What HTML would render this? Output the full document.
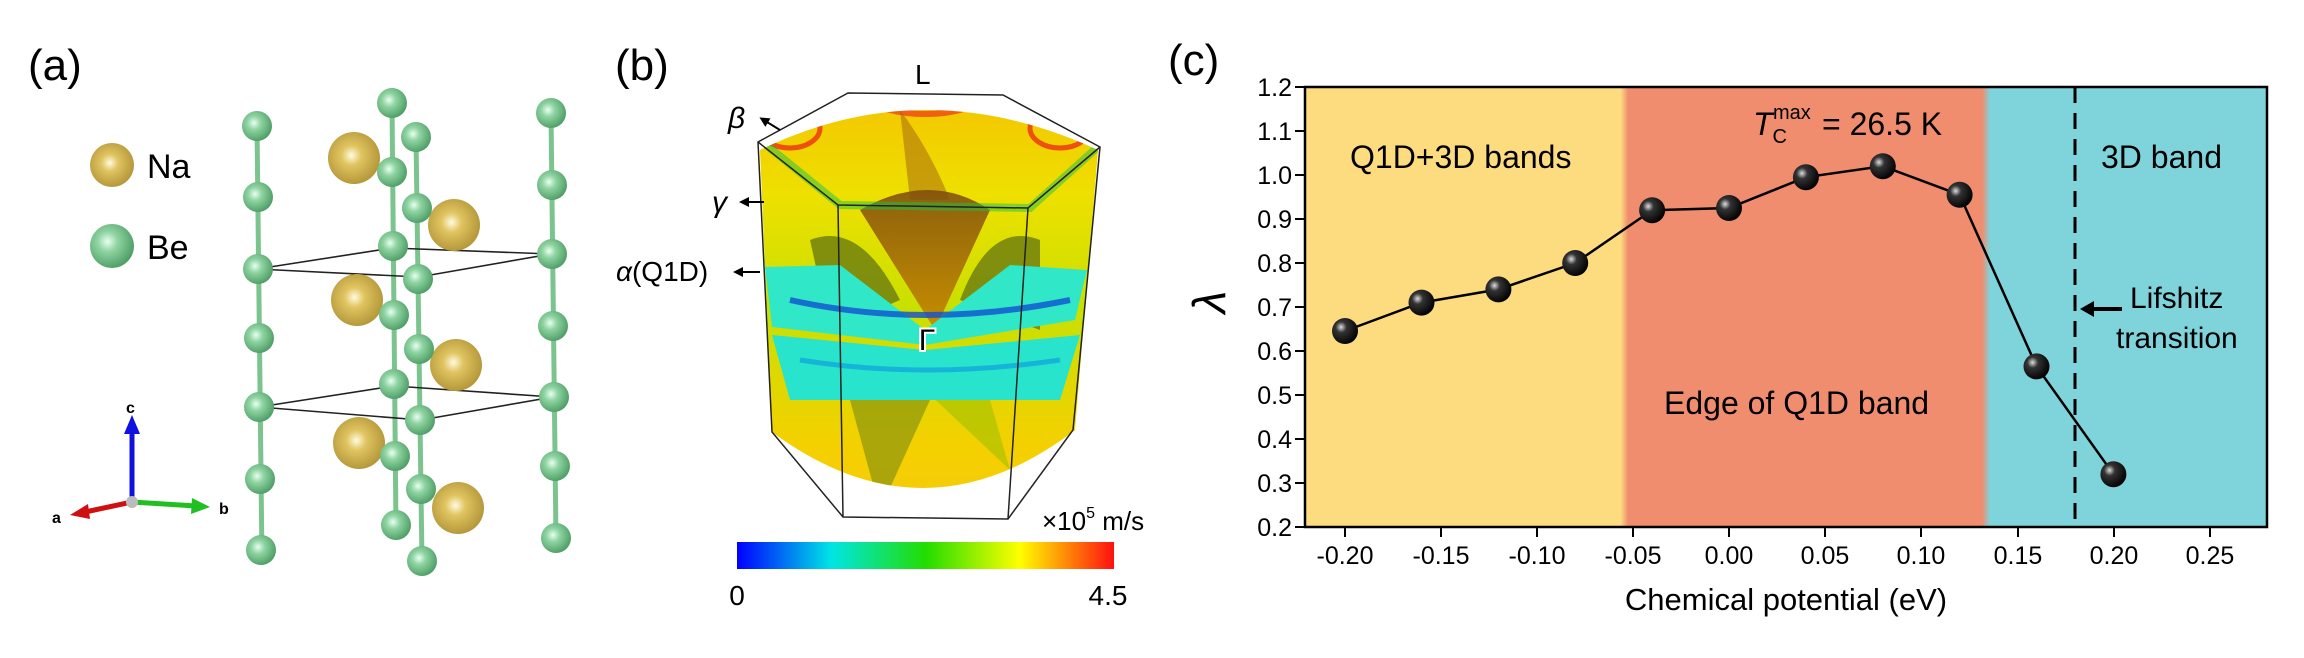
<!DOCTYPE html>
<html><head><meta charset="utf-8"><style>
html,body{margin:0;padding:0;background:#fff;}
svg{display:block;}
text{font-family:"Liberation Sans",sans-serif;}
</style></head><body>
<svg width="2304" height="658" viewBox="0 0 2304 658" xmlns="http://www.w3.org/2000/svg">
<defs>
<radialGradient id="be" cx="0.4" cy="0.4" r="0.65"><stop offset="0" stop-color="#e8fff0"/><stop offset="0.35" stop-color="#8fd4a2"/><stop offset="1" stop-color="#4a9a62"/></radialGradient>
<radialGradient id="na" cx="0.45" cy="0.45" r="0.65"><stop offset="0" stop-color="#fffbe0"/><stop offset="0.3" stop-color="#e0c460"/><stop offset="1" stop-color="#a88c30"/></radialGradient>
<radialGradient id="pt" cx="0.35" cy="0.35" r="0.7"><stop offset="0" stop-color="#ddd"/><stop offset="0.3" stop-color="#333"/><stop offset="1" stop-color="#000"/></radialGradient>
<linearGradient id="cbar" x1="0" x2="1"><stop offset="0" stop-color="#0000ff"/><stop offset="0.25" stop-color="#00e5e5"/><stop offset="0.5" stop-color="#22dd00"/><stop offset="0.75" stop-color="#ffff00"/><stop offset="1" stop-color="#ff1010"/></linearGradient>
<linearGradient id="fsv" x1="0" x2="0" y1="0" y2="1"><stop offset="0" stop-color="#f5c000"/><stop offset="0.25" stop-color="#eee000"/><stop offset="0.5" stop-color="#c8e000"/><stop offset="0.8" stop-color="#f5d000"/><stop offset="1" stop-color="#f5c810"/></linearGradient>
<linearGradient id="dark" x1="0" x2="0" y1="0" y2="1"><stop offset="0" stop-color="#7a4a10"/><stop offset="1" stop-color="#c88000"/></linearGradient>
<linearGradient id="bgx" x1="0" x2="1"><stop offset="0" stop-color="#fddc80"/><stop offset="0.328" stop-color="#fddc80"/><stop offset="0.336" stop-color="#ef8d6e"/><stop offset="0.704" stop-color="#ef8d6e"/><stop offset="0.712" stop-color="#7fd4db"/><stop offset="1" stop-color="#7fd4db"/></linearGradient>
<clipPath id="fsclip"><path d="M760,150 Q925,70 1098,150 L1075,430 Q925,545 772,432 Z"/></clipPath>
<marker id="ah" markerUnits="userSpaceOnUse" markerWidth="10" markerHeight="10" refX="7" refY="5" orient="auto"><path d="M0,0 L10,5 L0,10 Z" fill="#000"/></marker>
</defs>

<!-- Panel (a) -->
<text x="28" y="80" font-size="44">(a)</text>
<circle cx="112" cy="165" r="22" fill="url(#na)"/>
<text x="147" y="178" font-size="34">Na</text>
<circle cx="112" cy="246" r="22" fill="url(#be)"/>
<text x="147" y="259" font-size="34">Be</text>
<g stroke="#7cc48e" stroke-width="5">
<line x1="257" y1="126" x2="262" y2="561"/>
<line x1="392" y1="103" x2="396" y2="529"/>
<line x1="416" y1="137" x2="422" y2="563"/>
<line x1="551" y1="113" x2="556" y2="540"/>
</g>
<g stroke="#222" stroke-width="1.6" fill="none">
<path d="M257,269 L392,248 L551,254 L419,277 Z"/>
<path d="M259,407 L394,386 L553,397 L421,420 Z"/>
</g>
<g fill="url(#na)">
<ellipse cx="354" cy="158" rx="26" ry="26"/>
<ellipse cx="357" cy="300" rx="26" ry="26"/>
<ellipse cx="359" cy="443" rx="26" ry="26"/>
</g>
<g fill="url(#be)">
<circle cx="257" cy="126" r="15"/><circle cx="258" cy="197" r="15"/><circle cx="258" cy="269" r="15"/><circle cx="259" cy="338" r="15"/><circle cx="259" cy="407" r="15"/><circle cx="260" cy="479" r="15"/><circle cx="261" cy="550" r="15"/>
<circle cx="392" cy="103" r="15"/><circle cx="392" cy="172" r="15"/><circle cx="393" cy="246" r="15"/><circle cx="394" cy="315" r="15"/><circle cx="394" cy="384" r="15"/><circle cx="395" cy="456" r="15"/><circle cx="396" cy="525" r="15"/>
<circle cx="551" cy="113" r="15"/><circle cx="552" cy="185" r="15"/><circle cx="552" cy="254" r="15"/><circle cx="553" cy="326" r="15"/><circle cx="554" cy="397" r="15"/><circle cx="555" cy="466" r="15"/><circle cx="556" cy="538" r="15"/>
</g>
<g fill="url(#na)">
<ellipse cx="454" cy="225" rx="26" ry="26"/>
<ellipse cx="456" cy="365" rx="26" ry="26"/>
<ellipse cx="458" cy="508" rx="26" ry="26"/>
</g>
<g fill="url(#be)">
<circle cx="416" cy="137" r="15"/><circle cx="417" cy="208" r="15"/><circle cx="418" cy="279" r="15"/><circle cx="419" cy="349" r="15"/><circle cx="420" cy="420" r="15"/><circle cx="421" cy="489" r="15"/><circle cx="422" cy="561" r="15"/>
</g>
<line x1="132" y1="502" x2="132" y2="430" stroke="#1010e0" stroke-width="5"/>
<path d="M124,434 L132,415 L140,434 Z" fill="#1010e0"/>
<line x1="132" y1="502" x2="196" y2="506" stroke="#20c020" stroke-width="5"/>
<path d="M192,498 L210,507 L191,514 Z" fill="#20c020"/>
<line x1="132" y1="502" x2="85" y2="512" stroke="#d01010" stroke-width="5"/>
<path d="M88,504 L70,515 L90,519 Z" fill="#d01010"/>
<circle cx="132" cy="502" r="6" fill="#bbb"/>
<text x="126" y="413" font-size="16" font-weight="bold">c</text>
<text x="219" y="514" font-size="16" font-weight="bold">b</text>
<text x="52" y="523" font-size="16" font-weight="bold">a</text>

<!-- Panel (b) -->
<text x="615" y="80" font-size="44">(b)</text>
<text x="915" y="84" font-size="28">L</text>
<g clip-path="url(#fsclip)">
<rect x="740" y="80" width="380" height="460" fill="url(#fsv)"/>
<ellipse cx="925" cy="92" rx="60" ry="22" fill="none" stroke="#f06010" stroke-width="6"/>
<ellipse cx="925" cy="92" rx="25" ry="10" fill="#20c0c0"/>
<ellipse cx="925" cy="520" rx="60" ry="22" fill="none" stroke="#f06010" stroke-width="6"/>
<ellipse cx="925" cy="520" rx="25" ry="10" fill="#20c0c0"/>
<ellipse cx="790" cy="128" rx="30" ry="20" fill="none" stroke="#ee5010" stroke-width="5"/>
<ellipse cx="1060" cy="128" rx="30" ry="20" fill="none" stroke="#ee5010" stroke-width="5"/>
<ellipse cx="790" cy="480" rx="30" ry="25" fill="none" stroke="#ee5010" stroke-width="5"/>
<ellipse cx="1060" cy="480" rx="30" ry="25" fill="none" stroke="#ee5010" stroke-width="5"/>
<path d="M900,110 Q930,150 950,200 L910,200 Z" fill="#a06010" opacity="0.5"/>
<path d="M860,210 Q930,170 990,210 L935,330 Z" fill="url(#dark)" opacity="0.85"/>
<path d="M810,240 Q860,220 900,300 L830,330 Z" fill="#6a7a10" opacity="0.8"/>
<path d="M1040,240 Q990,220 960,300 L1040,330 Z" fill="#6a7a10" opacity="0.8"/>
<path d="M850,400 L930,400 L880,510 Z" fill="#7a8a10" opacity="0.6"/>
<path d="M925,390 L990,400 L1010,470 Z" fill="#a0c000" opacity="0.6"/>
<path d="M765,267 L840,265 L925,330 L1010,265 L1087,270 L1075,320 L925,345 L772,327 Z" fill="#30e8c8"/>
<path d="M772,335 L925,350 L1080,335 L1060,400 L925,400 L790,400 Z" fill="#28e4cc"/>
<path d="M790,300 Q925,330 1070,300" stroke="#1050d0" stroke-width="6" fill="none" opacity="0.8"/>
<path d="M800,360 Q925,380 1060,360" stroke="#10a0e0" stroke-width="5" fill="none" opacity="0.7"/>
<path d="M760,140 L840,205 L1030,208 L1100,145" stroke="#20c040" stroke-width="8" fill="none" opacity="0.5"/>
</g>
<g stroke="#222" stroke-width="1.5" fill="none">
<path d="M758,142 L848,93 L1003,95 L1100,147 L1073,430 L1008,519 L843,517 L772,432 Z"/>
<path d="M758,142 L838,205 L1028,208 L1100,147"/>
<line x1="838" y1="205" x2="843" y2="517"/>
<line x1="1028" y1="208" x2="1008" y2="519"/>
</g>
<text x="927" y="350" font-size="30" font-family="Liberation Serif" text-anchor="middle" stroke="#fff" stroke-width="4" paint-order="stroke">Γ</text>
<text x="728" y="128" font-size="30" font-family="Liberation Serif" font-style="italic">β</text>
<line x1="780" y1="130" x2="762" y2="119" stroke="#000" stroke-width="2" marker-end="url(#ah)"/>
<text x="712" y="212" font-size="30" font-family="Liberation Serif" font-style="italic">γ</text>
<line x1="764" y1="202" x2="742" y2="202" stroke="#000" stroke-width="2" marker-end="url(#ah)"/>
<text x="616" y="281" font-size="28" font-family="Liberation Serif"><tspan font-style="italic">α</tspan><tspan font-family="Liberation Sans">(Q1D)</tspan></text>
<line x1="760" y1="272" x2="736" y2="272" stroke="#000" stroke-width="2" marker-end="url(#ah)"/>
<rect x="737" y="542" width="377" height="27" fill="url(#cbar)"/>
<text x="737" y="605" font-size="28" text-anchor="middle">0</text>
<text x="1108" y="605" font-size="28" text-anchor="middle">4.5</text>
<text x="1042" y="530" font-size="26">×10<tspan font-size="16" dy="-12">5</tspan><tspan dy="12"> m/s</tspan></text>

<!-- Panel (c) -->
<text x="1168" y="75" font-size="44">(c)</text>
<rect x="1305" y="87" width="962" height="440" fill="url(#bgx)"/>
<line x1="2075" y1="87" x2="2075" y2="527" stroke="#000" stroke-width="3" stroke-dasharray="16,10"/>
<rect x="1305" y="87" width="962" height="440" fill="none" stroke="#000" stroke-width="2.5"/>
<g stroke="#000" stroke-width="2">
<line x1="1295" y1="87" x2="1305" y2="87"/><line x1="1295" y1="131" x2="1305" y2="131"/><line x1="1295" y1="175" x2="1305" y2="175"/><line x1="1295" y1="219" x2="1305" y2="219"/><line x1="1295" y1="263" x2="1305" y2="263"/><line x1="1295" y1="307" x2="1305" y2="307"/><line x1="1295" y1="351" x2="1305" y2="351"/><line x1="1295" y1="395" x2="1305" y2="395"/><line x1="1295" y1="439" x2="1305" y2="439"/><line x1="1295" y1="483" x2="1305" y2="483"/><line x1="1295" y1="527" x2="1305" y2="527"/>
<line x1="1345" y1="527" x2="1345" y2="537"/><line x1="1441" y1="527" x2="1441" y2="537"/><line x1="1537" y1="527" x2="1537" y2="537"/><line x1="1633" y1="527" x2="1633" y2="537"/><line x1="1729" y1="527" x2="1729" y2="537"/><line x1="1825" y1="527" x2="1825" y2="537"/><line x1="1921" y1="527" x2="1921" y2="537"/><line x1="2018" y1="527" x2="2018" y2="537"/><line x1="2114" y1="527" x2="2114" y2="537"/><line x1="2210" y1="527" x2="2210" y2="537"/>
</g>
<g font-size="25" text-anchor="end">
<text x="1292" y="96">1.2</text><text x="1292" y="140">1.1</text><text x="1292" y="184">1.0</text><text x="1292" y="228">0.9</text><text x="1292" y="272">0.8</text><text x="1292" y="316">0.7</text><text x="1292" y="360">0.6</text><text x="1292" y="404">0.5</text><text x="1292" y="448">0.4</text><text x="1292" y="492">0.3</text><text x="1292" y="536">0.2</text>
</g>
<g font-size="25" text-anchor="middle">
<text x="1345" y="564">-0.20</text><text x="1441" y="564">-0.15</text><text x="1537" y="564">-0.10</text><text x="1633" y="564">-0.05</text><text x="1729" y="564">0.00</text><text x="1825" y="564">0.05</text><text x="1921" y="564">0.10</text><text x="2018" y="564">0.15</text><text x="2114" y="564">0.20</text><text x="2210" y="564">0.25</text>
</g>
<text x="1786" y="610" font-size="31" text-anchor="middle">Chemical potential (eV)</text>
<text transform="translate(1225,302) rotate(-90)" font-size="46" font-family="Liberation Serif" font-style="italic" text-anchor="middle">λ</text>
<text x="1350" y="168" font-size="32">Q1D+3D bands</text>
<text x="2101" y="168" font-size="32">3D band</text>
<text x="1664" y="414" font-size="32">Edge of Q1D band</text>
<text x="2130" y="308" font-size="30">Lifshitz</text>
<text x="2116" y="348" font-size="30">transition</text>
<line x1="2122" y1="309" x2="2090" y2="309" stroke="#000" stroke-width="4"/>
<path d="M2080,309 L2094,301 L2094,317 Z" fill="#000"/>
<text x="1753" y="135" font-size="32" font-family="Liberation Serif" font-style="italic">T<tspan font-size="20" dy="8" font-style="normal">C</tspan><tspan font-size="20" dy="-24" dx="-14" font-style="normal">max</tspan></text>
<text x="1822" y="135" font-size="32">= 26.5 K</text>
<polyline points="1345,331 1421.5,302.6 1498.4,289.4 1575.2,263 1652.1,210.2 1729,208 1805.9,177.2 1882.8,166.2 1959.6,194.8 2036.5,366.4 2113.4,474.2" fill="none" stroke="#000" stroke-width="2.5"/>
<g fill="url(#pt)">
<circle cx="1345" cy="331" r="13"/><circle cx="1421.5" cy="302.6" r="13"/><circle cx="1498.4" cy="289.4" r="13"/><circle cx="1575.2" cy="263" r="13"/><circle cx="1652.1" cy="210.2" r="13"/><circle cx="1729" cy="208" r="13"/><circle cx="1805.9" cy="177.2" r="13"/><circle cx="1882.8" cy="166.2" r="13"/><circle cx="1959.6" cy="194.8" r="13"/><circle cx="2036.5" cy="366.4" r="13"/><circle cx="2113.4" cy="474.2" r="13"/>
</g>
</svg>
</body></html>
